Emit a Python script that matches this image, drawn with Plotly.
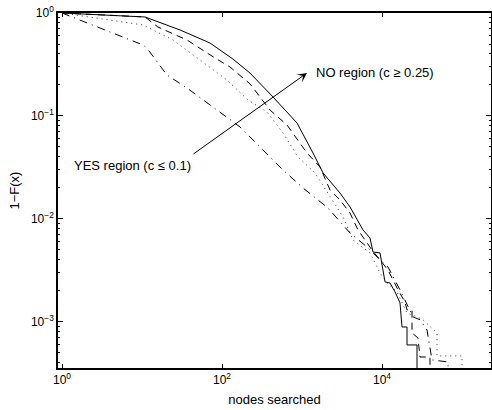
import plotly.graph_objects as go

# ---- data ----
solid_x = [1, 10.9, 29.9, 70.8, 137, 224, 434, 866, 1373, 1830, 2985, 3981, 5788, 7079,
           7718, 9441, 10901, 12589, 14540, 16788, 17783, 20535, 20535, 27384, 27384]
solid_y = [1, 0.915, 0.684, 0.511, 0.357, 0.261, 0.153, 0.0855, 0.0437, 0.028, 0.01786,
           0.01309, 0.00782, 0.00654, 0.00478, 0.00468, 0.00245, 0.00239, 0.00196, 0.00153,
           0.000894, 0.000894, 0.000598, 0.000598, 0.0001]

dashed_x = [1, 10.9, 15.8, 36.5, 81.7, 126, 224, 398, 649, 1155, 1679, 2239, 2985, 3981,
            5012, 7499, 11885, 15849, 19387, 20535, 23714, 23714, 28184, 29854, 39811, 39811]
dashed_y = [1, 0.915, 0.731, 0.547, 0.366, 0.299, 0.205, 0.1143, 0.0818, 0.0437, 0.032,
            0.01912, 0.01529, 0.01143, 0.00782, 0.005, 0.0032, 0.00205, 0.00156, 0.00131,
            0.00131, 0.000782, 0.0007, 0.000457, 0.000457, 0.0001]

dotted_x = [1, 10.3, 24.4, 53.1, 115, 211, 365, 579, 891, 1454, 2113, 3254, 4340, 7079,
            9441, 11548, 15399, 20535, 27384, 32546, 48697, 48697, 100000, 100000]
dotted_y = [1, 0.765, 0.547, 0.35, 0.224, 0.143, 0.1094, 0.0684, 0.04, 0.028, 0.01786,
            0.01046, 0.00625, 0.00468, 0.00299, 0.00239, 0.00196, 0.00122, 0.00112, 0.00105,
            0.000782, 0.000468, 0.000468, 0.0001]

dashdot_x = [1, 10.3, 11.5, 20.5, 36.5, 86.6, 168, 299, 579, 1029, 2113, 3981, 6494, 7718,
             11885, 16788, 24417, 29854, 36517, 42170, 66834, 66834]
dashdot_y = [1, 0.489, 0.457, 0.25, 0.187, 0.1143, 0.0782, 0.05, 0.0299, 0.02, 0.01279,
             0.00731, 0.00535, 0.00468, 0.00342, 0.00205, 0.00112, 0.00105, 0.000836,
             0.000428, 0.000409, 0.0001]

x_tickvals = [1, 100, 10000]
x_ticktext = ["10<sup>0</sup>", "10<sup>2</sup>", "10<sup>4</sup>"]
y_tickvals = [0.001, 0.01, 0.1, 1]
y_ticktext = ["10<sup>−3</sup>", "10<sup>−2</sup>", "10<sup>−1</sup>", "10<sup>0</sup>"]

FONT = "Liberation Sans, Arial, Helvetica, sans-serif"

fig = go.Figure()
fig.add_trace(go.Scatter(x=solid_x, y=solid_y, mode="lines",
                         line=dict(color="black", width=1, dash="solid")))
fig.add_trace(go.Scatter(x=dashed_x, y=dashed_y, mode="lines",
                         line=dict(color="black", width=1, dash="7px,5px")))
fig.add_trace(go.Scatter(x=dotted_x, y=dotted_y, mode="lines",
                         line=dict(color="#333333", width=1, dash="1px,4px")))
fig.add_trace(go.Scatter(x=dashdot_x, y=dashdot_y, mode="lines",
                         line=dict(color="black", width=1, dash="8px,5px,1px,5px")))

y_minor = [m * 10 ** e for e in (-4, -3, -2, -1) for m in range(2, 10)]

fig.update_layout(
    width=492, height=410,
    margin=dict(l=58, r=1, t=13, b=42),
    paper_bgcolor="white", plot_bgcolor="white",
    showlegend=False,
    font=dict(family=FONT, size=12, color="black"),
    xaxis=dict(
        type="log", range=[-0.05, 5.3625], automargin=False,
        tickvals=x_tickvals, ticktext=x_ticktext,
        ticks="inside", ticklen=4, tickcolor="black",
        showline=True, linecolor="black", linewidth=1.5, mirror="ticks",
        showgrid=False, zeroline=False,
        tickfont=dict(size=12),
        title=dict(text="nodes searched", font=dict(size=13), standoff=9),
    ),
    yaxis=dict(
        type="log", range=[-3.447, 0], automargin=False,
        tickvals=y_tickvals, ticktext=y_ticktext,
        ticks="inside", ticklen=5, tickcolor="black",
        minor=dict(tickvals=y_minor, ticks="inside", ticklen=2, tickcolor="black"),
        showline=True, linecolor="black", linewidth=1.5, mirror="ticks",
        showgrid=False, zeroline=False,
        tickfont=dict(size=12),
        title=dict(text="1−F(x)", font=dict(size=13), standoff=8),
    ),
    annotations=[
        dict(x=3.0625, y=-0.5825, xref="x", yref="y", text=" ",
             showarrow=True, ax=-115, ay=82, arrowhead=3, arrowsize=1.6,
             arrowwidth=1, arrowcolor="black", standoff=0, startstandoff=0,
             font=dict(size=1)),
        dict(x=0.875, y=-1.485, xref="x", yref="y", text="YES region (c ≤ 0.1)",
             showarrow=False, font=dict(size=13)),
        dict(x=3.15, y=-0.5825, xref="x", yref="y", text="NO region (c ≥ 0.25)",
             showarrow=False, xanchor="left", font=dict(size=13)),
    ],
)

fig.write_html(
    "out.html",
    config={"displayModeBar": False},
    post_script="document.body.style.margin='0';document.body.style.overflow='hidden';",
)
